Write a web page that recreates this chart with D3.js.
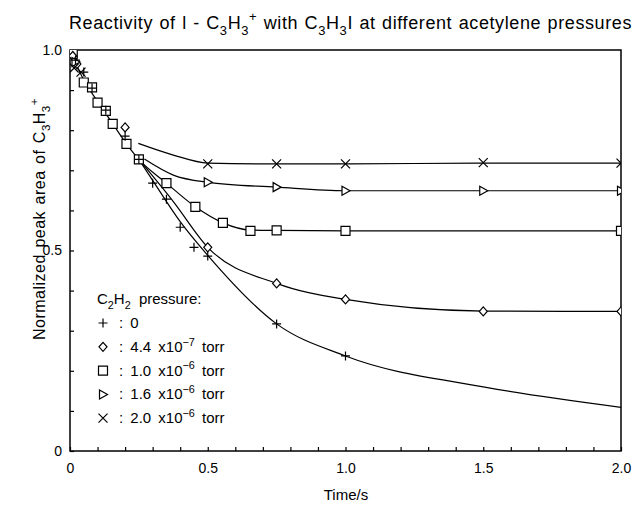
<!DOCTYPE html>
<html><head><meta charset="utf-8">
<script src="https://cdn.jsdelivr.net/npm/d3@7"></script>
<style>
body{margin:0;background:#fff}
svg{display:block}
text{font-family:"Liberation Sans",Arial,sans-serif;fill:#000;white-space:pre}
</style>
</head><body>
<svg id="c" width="635" height="507"></svg>
<script>
// ---- data (time in s, normalized peak area) ----
const plusPoints = [[0.02,0.975],[0.05,0.945],[0.08,0.905],[0.13,0.85],[0.2,0.785],[0.25,0.727],[0.3,0.668],[0.35,0.628],[0.4,0.558],[0.45,0.508],[0.5,0.486],[0.75,0.317],[1.0,0.237]];
const plusCurve = [[0.25,0.727],[0.3,0.675],[0.4,0.572],[0.5,0.488],[0.75,0.317],[1.0,0.237],[1.5,0.16],[2.0,0.109]];
const diamondPoints = [[0.01,0.985],[0.025,0.965],[0.2,0.807],[0.5,0.508],[0.75,0.418],[1.0,0.378],[1.5,0.348],[2.0,0.348]];
const diamondCurve = [[0.25,0.727],[0.375,0.622],[0.5,0.508],[0.75,0.418],[1.0,0.378],[1.5,0.349],[2.0,0.348]];
const squarePoints = [[0.01,0.99],[0.05,0.919],[0.08,0.907],[0.1,0.869],[0.13,0.848],[0.155,0.816],[0.205,0.766],[0.25,0.727],[0.35,0.668],[0.455,0.609],[0.555,0.569],[0.655,0.549],[0.75,0.55],[1.0,0.549],[2.0,0.549]];
const squareCurve = [[0,1.0],[0.05,0.925],[0.1,0.872],[0.155,0.816],[0.205,0.766],[0.25,0.727],[0.35,0.668],[0.455,0.609],[0.555,0.569],[0.655,0.551],[0.75,0.55],[1.0,0.549],[2.0,0.549]];
const trianglePoints = [[0.02,0.97],[0.5,0.67],[0.75,0.658],[1.0,0.649],[1.5,0.649],[2.0,0.649]];
const triangleCurve = [[0.27,0.728],[0.375,0.688],[0.5,0.67],[0.75,0.658],[1.0,0.649],[1.5,0.649],[2.0,0.649]];
const crossPoints = [[0.015,0.955],[0.04,0.945],[0.5,0.716],[0.75,0.716],[1.0,0.716],[1.5,0.719],[2.0,0.718]];
const crossCurve = [[0.248,0.767],[0.375,0.738],[0.5,0.718],[0.75,0.716],[1.0,0.716],[1.5,0.718],[2.0,0.718]];

const xMinorTicks = d3.range(0, 21).map(i => i / 10);
const yMinorTicks = d3.range(0, 11).map(i => i / 10);
const xTickLabels = [[0,"0"],[0.5,"0.5"],[1.0,"1.0"],[1.5,"1.5"],[2.0,"2.0"]];
const yTickLabels = [[0,"0"],[0.5,"0.5"],[1.0,"1.0"]];
const legendEntries = [
  {sym:"plus", label:[{t:": 0"}]},
  {sym:"diamond", label:[{t:": 4.4 x10"},{t:"−7",sup:true},{t:" torr"}]},
  {sym:"square", label:[{t:": 1.0 x10"},{t:"−6",sup:true},{t:" torr"}]},
  {sym:"triangle", label:[{t:": 1.6 x10"},{t:"−6",sup:true},{t:" torr"}]},
  {sym:"cross", label:[{t:": 2.0 x10"},{t:"−6",sup:true},{t:" torr"}]}
];

// ---- layout ----
const svg = d3.select("#c");
const X0 = 70, X1 = 621, Y0 = 451, Y1 = 50;
const x = d3.scaleLinear().domain([0, 2]).range([X0, X1]);
const y = d3.scaleLinear().domain([0, 1]).range([Y0, Y1]);

svg.append("rect").attr("width",635).attr("height",507).attr("fill","#fff");

svg.append("defs").append("clipPath").attr("id","pc")
  .append("rect").attr("x",X0).attr("y",Y1).attr("width",X1-X0).attr("height",Y0-Y1);

// ticks (inward)
svg.append("g").attr("transform",`translate(0,${Y0})`)
  .call(d3.axisBottom(x).tickValues(xMinorTicks).tickSize(-4).tickFormat(""))
  .call(g => g.select(".domain").remove())
  .selectAll("line").attr("stroke","#000").attr("stroke-width",1.2);
svg.append("g").attr("transform",`translate(${X0},0)`)
  .call(d3.axisLeft(y).tickValues(yMinorTicks).tickSize(-4).tickFormat(""))
  .call(g => g.select(".domain").remove())
  .selectAll("line").attr("stroke","#000").attr("stroke-width",1.2);

// tick labels
const xl = new Map(xTickLabels);
svg.append("g").attr("transform",`translate(0,${Y0})`)
  .call(d3.axisBottom(x).tickValues(xTickLabels.map(d=>d[0])).tickSize(0).tickPadding(12).tickFormat(d=>xl.get(d)))
  .call(g => g.select(".domain").remove())
  .selectAll("text").attr("font-size",14).attr("font-family","Liberation Sans");
const yl = new Map(yTickLabels);
svg.append("g").attr("transform",`translate(${X0},0)`)
  .call(d3.axisLeft(y).tickValues(yTickLabels.map(d=>d[0])).tickSize(0).tickPadding(8).tickFormat(d=>yl.get(d)))
  .call(g => g.select(".domain").remove())
  .selectAll("text").attr("font-size",14).attr("font-family","Liberation Sans");

// frame
svg.append("rect").attr("x",X0).attr("y",Y1).attr("width",X1-X0).attr("height",Y0-Y1)
  .attr("fill","none").attr("stroke","#000").attr("stroke-width",1.5);

// curves
const line = d3.line().x(d=>x(d[0])).y(d=>y(d[1])).curve(d3.curveMonotoneX);
const plot = svg.append("g").attr("clip-path","url(#pc)");
[plusCurve, diamondCurve, squareCurve, triangleCurve, crossCurve].forEach(c => {
  plot.append("path").attr("d", line(c)).attr("fill","none").attr("stroke","#000").attr("stroke-width",1.2);
});

// marker shapes
function markerPath(type){
  switch(type){
    case "plus": return "M-4.5,0H4.5M0,-4.5V4.5";
    case "cross": return "M-4.5,-4.5L4.5,4.5M-4.5,4.5L4.5,-4.5";
    case "square": return "M-4.5,-4.5H4.5V4.5H-4.5Z";
    case "diamond": return "M0,-4.5L4,0L0,4.5L-4,0Z";
    case "triangle": return "M-3.5,-4.5L4.5,0L-3.5,4.5Z";
  }
}
function drawMarkers(g, pts, type){
  g.selectAll(null).data(pts).enter().append("path")
    .attr("transform", d=>`translate(${x(d[0])},${y(d[1])})`)
    .attr("d", markerPath(type))
    .attr("fill", (type==="plus"||type==="cross") ? "none" : "#fff")
    .attr("stroke","#000").attr("stroke-width",1.2);
}
drawMarkers(plot, squarePoints, "square");
drawMarkers(plot, diamondPoints, "diamond");
drawMarkers(plot, trianglePoints, "triangle");
drawMarkers(plot, crossPoints, "cross");
drawMarkers(plot, plusPoints, "plus");

// rich text helper
function rich(sel, parts, fs){
  let off = 0;
  parts.forEach(p => {
    const ts = sel.append("tspan").text(p.t);
    const target = p.sub ? fs*0.32 : p.sup ? -fs*0.42 : 0;
    if (target - off !== 0) ts.attr("dy", target - off);
    off = target;
    if (p.sub || p.sup) ts.attr("font-size", fs*0.72);
  });
}
function fitWords(t, target){
  const w = t.node().getComputedTextLength();
  const n = (t.text().match(/ /g)||[]).length;
  if (n>0) t.style("word-spacing", ((target - w)/n) + "px");
}

// title
const fsT = 18;
const title = svg.append("text").attr("x",69).attr("y",29).attr("font-size",fsT).style("letter-spacing","0.6px");
rich(title, [{t:"Reactivity of l - C"},{t:"3",sub:true},{t:"H"},{t:"3",sub:true},{t:"+",sup:true},
  {t:" with C"},{t:"3",sub:true},{t:"H"},{t:"3",sub:true},{t:"I at different acetylene pressures"}], fsT);
fitWords(title, 563);

// y axis title
const fsY = 16;
const ytitle = svg.append("text").attr("x",0).attr("y",0).attr("font-size",fsY)
  .attr("text-anchor","middle").attr("transform","translate(45,219) rotate(-90)").style("letter-spacing","0.5px");
rich(ytitle, [{t:"Normalized peak area of C"},{t:"3",sub:true},{t:"H"},{t:"3",sub:true},{t:"+",sup:true}], fsY);
fitWords(ytitle, 242);

// x axis title
svg.append("text").attr("x",346).attr("y",500).attr("text-anchor","middle").attr("font-size",15).text("Time/s");

// legend
const fsL = 15;
const head = svg.append("text").attr("x",97).attr("y",304).attr("font-size",fsL).style("word-spacing","4px");
rich(head, [{t:"C"},{t:"2",sub:true},{t:"H"},{t:"2",sub:true},{t:" pressure:"}], fsL);
const lg = svg.append("g");
legendEntries.forEach((e,i) => {
  const cy = 323 + i*23.8;
  lg.append("path").attr("transform",`translate(103,${cy})`).attr("d",markerPath(e.sym))
    .attr("fill", (e.sym==="plus"||e.sym==="cross") ? "none" : "#fff")
    .attr("stroke","#000").attr("stroke-width",1.2);
  const t = lg.append("text").attr("x",119).attr("y",cy+5).attr("font-size",fsL).style("word-spacing","3px");
  rich(t, e.label, fsL);
});
</script>
</body></html>
